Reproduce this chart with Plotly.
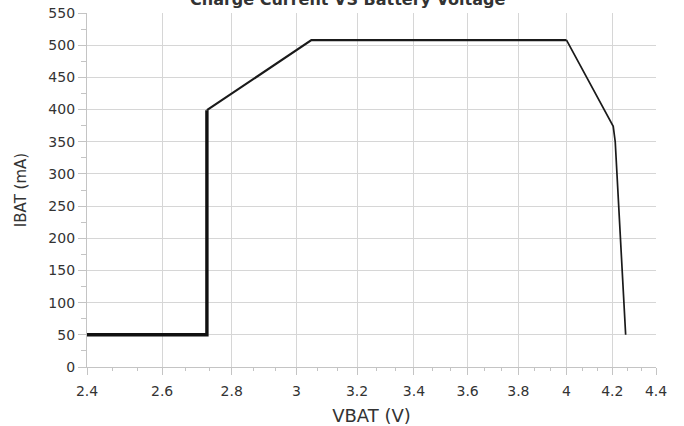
import plotly.graph_objects as go
import math

# Data
vbat_pre = [2.4, 2.727, 2.727]
ibat_pre = [50, 50, 399]
vbat_cc = [2.727, 3.048, 4.0]
ibat_cc = [399, 508, 508]
vbat_cv = [4.0, 4.204, 4.213, 4.26]
ibat_cv = [508, 374, 350, 50]

x_ticks = [2.4, 2.6, 2.8, 3.0, 3.2, 3.4, 3.6, 3.8, 4.0, 4.2, 4.4]
x_ticktext = ["2.4", "2.6", "2.8", "3", "3.2", "3.4", "3.6", "3.8", "4", "4.2", "4.4"]
y_ticks = [0, 50, 100, 150, 200, 250, 300, 350, 400, 450, 500, 550]

title_text = "Charge Current VS Battery Voltage"
x_title = "VBAT (V)"
y_title = "IBAT (mA)"

x_minor = []
for a, b in zip(x_ticks[:-1], x_ticks[1:]):
    x_minor += [a + (b - a) / 3, a + 2 * (b - a) / 3]
y_minor = [v + 25 for v in y_ticks[:-1]]

FONT = "DejaVu Sans"
TXT = "#333333"
GRID = "#d6d6d6"
AX = "#c4c4c4"

L, R, T, B = 87, 28, 13, 59
PW, PH = 684 - L - R, 426 - T - B

fig = go.Figure()
fig.add_trace(go.Scatter(x=vbat_pre, y=ibat_pre, mode="lines",
                         line=dict(color="#111111", width=3.4), showlegend=False))
fig.add_trace(go.Scatter(x=vbat_cc, y=ibat_cc, mode="lines",
                         line=dict(color="#1a1a1a", width=2.2), showlegend=False))
fig.add_trace(go.Scatter(x=vbat_cv, y=ibat_cv, mode="lines",
                         line=dict(color="#1a1a1a", width=1.7), showlegend=False))

fig.update_layout(
    template="none",
    width=684, height=426,
    margin=dict(l=L, r=R, t=T, b=B, autoexpand=False),
    paper_bgcolor="white", plot_bgcolor="white",
    font=dict(family=FONT, color=TXT, size=14),
)
fig.add_annotation(text="<b>" + title_text + "</b>", xref="paper", yref="paper",
                   x=(347 - L) / PW, y=1 + 2 / PH, yanchor="bottom",
                   xanchor="center", showarrow=False,
                   font=dict(family=FONT, size=16, color="#333333"))

fig.update_xaxes(
    type="log", range=[math.log10(2.4), math.log10(4.4)], automargin=False,
    tickmode="array", tickvals=x_ticks, ticktext=x_ticktext,
    showgrid=True, gridcolor=GRID, gridwidth=1.3,
    showline=True, linecolor=AX, linewidth=1.3,
    ticks="outside", ticklen=7, tickcolor=AX, tickwidth=1.3,
    ticklabelstandoff=4,
    minor=dict(tickmode="array", tickvals=x_minor, ticks="outside", ticklen=3,
               tickcolor=AX, showgrid=False),
    tickfont=dict(family=FONT, size=14, color=TXT),
    title=dict(text=x_title, font=dict(family=FONT, size=18, color=TXT), standoff=12),
    zeroline=False,
)
fig.update_yaxes(
    range=[0, 550], tickmode="array", tickvals=y_ticks, automargin=False,
    showgrid=True, gridcolor=GRID, gridwidth=1.3,
    showline=True, linecolor=AX, linewidth=1.3,
    ticks="outside", ticklen=8, tickcolor=AX, tickwidth=1.3,
    minor=dict(tickmode="array", tickvals=y_minor, ticks="outside", ticklen=5,
               tickcolor=AX, showgrid=False),
    tickfont=dict(family=FONT, size=14, color=TXT),
    title=dict(text=y_title, font=dict(family=FONT, size=15, color=TXT), standoff=18),
    zeroline=False,
)

fig.write_html("out.html", config={"displayModeBar": False},
               post_script="document.body.style.margin='0px';document.body.style.overflow='hidden';")
